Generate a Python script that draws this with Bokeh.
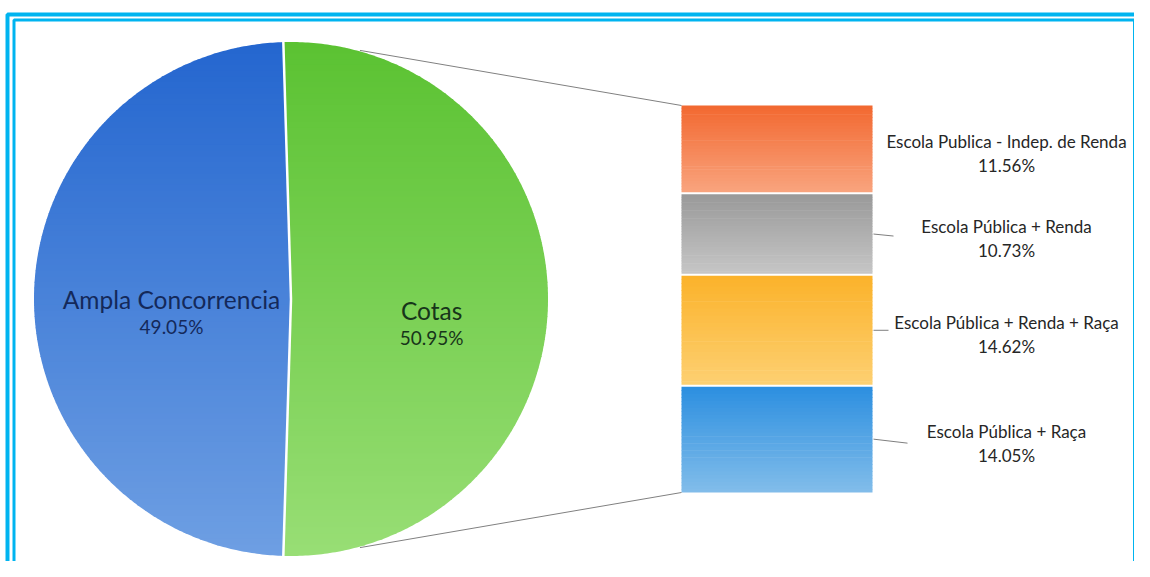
import numpy as np
from bokeh.plotting import figure
from bokeh.models import Range1d
from bokeh.core.properties import value
from bokeh.embed import file_html
from bokeh.resources import INLINE

# ---------------- data ----------------
pie_labels = ["Ampla Concorrencia", "Cotas"]
pie_values = [49.05, 50.95]

bar_labels = ["Escola Publica - Indep. de Renda", "Escola Pública + Renda",
              "Escola Pública + Renda + Raça", "Escola Pública + Raça"]
bar_values = [11.56, 10.73, 14.62, 14.05]

# ---------------- style ----------------
W, H = 1134, 561
FONT = "Lato"
cx, cy, R = 290.5, 298.5, 257.0
pie_grad = [("#2466cf", "#6e9fe3"), ("#5bc232", "#98de75")]
pie_text_col = ["#14295a", "#17351a"]
pie_lab_frac = [0.465, 0.547]
pie_lab_dy = [0.0, 11.0]

bar_left, bar_right, bar_top, bar_h = 681.0, 872.0, 105.0, 387.0
bar_grad = [("#f26830", "#f9a47e"), ("#999999", "#c6c6c6"),
            ("#fbb22a", "#fdd072"), ("#2c8fe0", "#82bdea")]
leader_len = [0, 20, 15, 34]
leader_dy = [0, 2, 0, 4]
lab_x = 1006.0
conn_angle = 74.5
border_col = "#00b4f0"


def mix(c0, c1, t):
    a = [int(c0[i:i + 2], 16) for i in (1, 3, 5)]
    b = [int(c1[i:i + 2], 16) for i in (1, 3, 5)]
    return "#%02x%02x%02x" % tuple(int(round(a[k] + (b[k] - a[k]) * t)) for k in range(3))


def clip(poly, inside, inter):
    out = []
    for i in range(len(poly)):
        cur, prev = poly[i], poly[i - 1]
        if inside(cur):
            if not inside(prev):
                out.append(inter(prev, cur))
            out.append(cur)
        elif inside(prev):
            out.append(inter(prev, cur))
    return out


def yint(yc):
    def f(p, c):
        t = (yc - p[1]) / (c[1] - p[1])
        return (p[0] + t * (c[0] - p[0]), yc)
    return f


def band(poly, y0, y1):
    q = clip(poly, lambda p: p[1] >= y0, yint(y0))
    if not q:
        return q
    return clip(q, lambda p: p[1] <= y1, yint(y1))


p = figure(width=W, height=H, x_range=Range1d(0, W), y_range=Range1d(H, 0),
           output_backend="svg", toolbar_location=None, min_border=0)
p.axis.visible = False
p.grid.visible = False
p.outline_line_color = None
p.background_fill_color = "white"

# ---------------- pie ----------------
fr = np.array(pie_values) / sum(pie_values)
g_half = fr[1] * 180.0
spans = [(g_half, 360.0 - g_half), (-g_half, g_half)]  # blue, green (deg, ccw)

xs, ys, cols = [], [], []
NB = 90
for k, (a0, a1) in enumerate(spans):
    th = np.radians(np.linspace(a0, a1, 300))
    poly = [(cx, cy)] + [(cx + R * np.cos(t), cy - R * np.sin(t)) for t in th]
    edges = np.linspace(cy - R, cy + R, NB + 1)
    for i in range(NB):
        q = band(poly, edges[i], edges[i + 1] + 0.8)
        if len(q) < 3:
            continue
        xs.append([pt[0] for pt in q])
        ys.append([pt[1] for pt in q])
        cols.append(mix(pie_grad[k][0], pie_grad[k][1], (i + 0.5) / NB))
p.patches(xs, ys, fill_color=cols, line_color=None)

# white separators between slices
for ang in (g_half, -g_half):
    t = np.radians(ang)
    p.segment(x0=[cx], y0=[cy], x1=[cx + (R + 1) * np.cos(t)], y1=[cy - (R + 1) * np.sin(t)],
              line_color="white", line_width=2.5)

# pie labels
mids = [180.0, 0.0]
for k in range(2):
    t = np.radians(mids[k])
    lx = cx + pie_lab_frac[k] * R * np.cos(t)
    ly = cy - pie_lab_frac[k] * R * np.sin(t) + pie_lab_dy[k]
    p.text([lx], [ly], text=[pie_labels[k]], text_font=value(FONT), text_font_size="24.5px",
           text_align="center", text_baseline="middle", text_color=pie_text_col[k])
    p.text([lx], [ly + 27.5], text=["%.2f%%" % pie_values[k]], text_font=value(FONT),
           text_font_size="19px", text_align="center", text_baseline="middle",
           text_color=pie_text_col[k])

# ---------------- stacked bar ----------------
scale = bar_h / sum(bar_values)
cum = np.concatenate([[0.0], np.cumsum(bar_values)])
bx, by, bc = [], [], []
NS = 30
seg_mid = []
for k in range(len(bar_values)):
    y0 = bar_top + cum[k] * scale + (1.0 if k > 0 else 0.0)
    y1 = bar_top + cum[k + 1] * scale - (1.0 if k < len(bar_values) - 1 else 0.0)
    seg_mid.append((bar_top + cum[k] * scale + bar_top + cum[k + 1] * scale) / 2)
    e = np.linspace(y0, y1, NS + 1)
    for i in range(NS):
        yb = min(e[i + 1] + 0.6, y1)
        bx.append([bar_left, bar_right, bar_right, bar_left])
        by.append([e[i], e[i], yb, yb])
        bc.append(mix(bar_grad[k][0], bar_grad[k][1], (i + 0.5) / NS))
p.patches(bx, by, fill_color=bc, line_color=None)

for k in range(len(bar_values)):
    m = seg_mid[k]
    if leader_len[k] > 0:
        p.segment(x0=[bar_right + 1], y0=[m], x1=[bar_right + 1 + leader_len[k]],
                  y1=[m + leader_dy[k]], line_color="#7f7f7f", line_width=1)
    p.text([lab_x], [m - 8], text=[bar_labels[k]], text_font=value(FONT), text_font_size="17px",
           text_align="center", text_baseline="middle", text_color="#262626")
    p.text([lab_x], [m + 16], text=["%.2f%%" % bar_values[k]], text_font=value(FONT),
           text_font_size="17px", text_align="center", text_baseline="middle",
           text_color="#262626")

# connector lines pie -> bar
bar_bottom = bar_top + cum[-1] * scale
for sgn, yb in ((1, bar_top), (-1, bar_bottom)):
    t = np.radians(sgn * conn_angle)
    p.segment(x0=[cx + (R + 1) * np.cos(t)], y0=[cy - (R + 1) * np.sin(t)],
              x1=[bar_left], y1=[yb], line_color="#808080", line_width=1)

# ---------------- frame borders ----------------
p.quad(left=[7], right=[W + 20], top=[14], bottom=[H + 20], fill_color=None,
       line_color=border_col, line_width=4)
p.quad(left=[13.5], right=[W], top=[19.5], bottom=[H + 20], fill_color=None,
       line_color=border_col, line_width=3)

open("out.html", "w").write(file_html(p, INLINE))
